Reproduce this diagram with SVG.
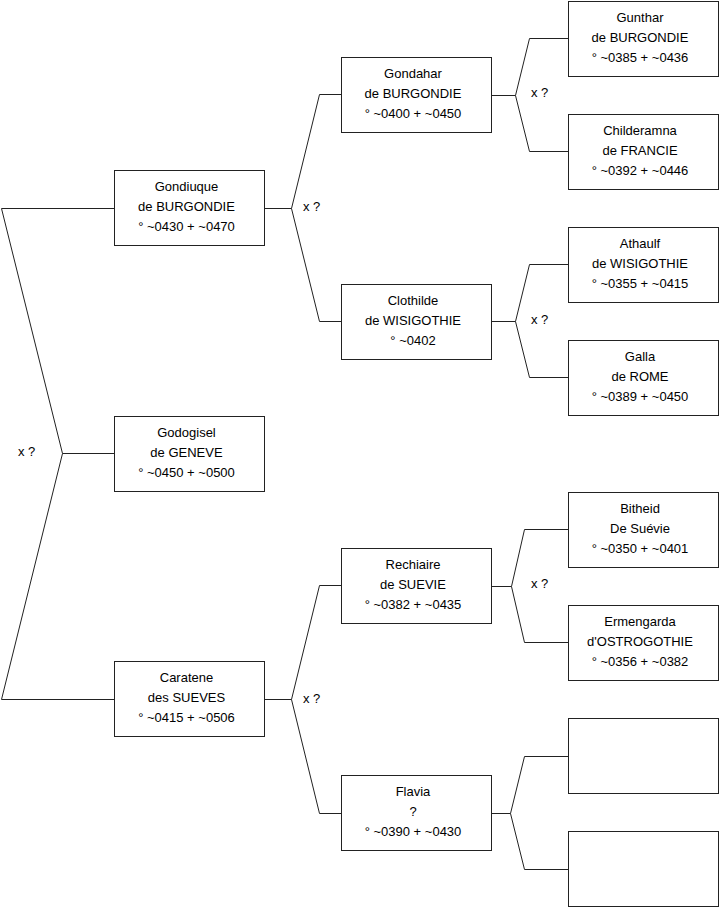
<svg xmlns="http://www.w3.org/2000/svg" width="719" height="908" viewBox="0 0 719 908">
<style>
.box{fill:#fff;stroke:#222;stroke-width:1}
.ln{fill:none;stroke:#222;stroke-width:1}
text{font-family:"Liberation Sans",Arial,sans-serif;font-size:13px;fill:#000}
.c{text-anchor:middle}
</style>
<rect width="719" height="908" fill="#fff"/>
<g id="connectors">
<polyline class="ln" points="114,208.5 1.5,208.5 62.5,453.5 1.5,699.5 114,699.5"/>
<polyline class="ln" points="62.5,453.5 114,453.5"/>
<polyline class="ln" points="265,208.5 291.5,208.5"/>
<polyline class="ln" points="341,94.5 319.5,94.5 291.5,208.5 319.5,321.5 341,321.5"/>
<polyline class="ln" points="265,699.5 291.5,699.5"/>
<polyline class="ln" points="341,585.5 319.5,585.5 291.5,699.5 319.5,813.5 341,813.5"/>
<polyline class="ln" points="492,95.5 515.5,95.5"/>
<polyline class="ln" points="568,38.5 529.5,38.5 515.5,95.5 529.5,151.5 568,151.5"/>
<polyline class="ln" points="492,321.5 515.5,321.5"/>
<polyline class="ln" points="568,264.5 529.5,264.5 515.5,321.5 529.5,377.5 568,377.5"/>
<polyline class="ln" points="492,586.5 511.5,586.5"/>
<polyline class="ln" points="568,529.5 524.5,529.5 511.5,586.5 524.5,642.5 568,642.5"/>
<polyline class="ln" points="492,813.5 510.5,813.5"/>
<polyline class="ln" points="568,756.5 524.5,756.5 510.5,813.5 524.5,869.5 568,869.5"/>
<text x="18" y="456">x ?</text>
<text x="303" y="211">x ?</text>
<text x="303" y="703">x ?</text>
<text x="531" y="97">x ?</text>
<text x="531" y="324">x ?</text>
<text x="531" y="588">x ?</text>
</g>
<g id="gondiuque">
<rect class="box" x="114.5" y="170.5" width="150" height="75"/>
<text class="c" x="186.5" y="191">Gondiuque</text>
<text class="c" x="186.5" y="211">de BURGONDIE</text>
<text class="c" x="186.5" y="231">° ~0430 + ~0470</text>
</g>
<g id="godogisel">
<rect class="box" x="114.5" y="416.5" width="150" height="75"/>
<text class="c" x="186.5" y="437">Godogisel</text>
<text class="c" x="186.5" y="457">de GENEVE</text>
<text class="c" x="186.5" y="477">° ~0450 + ~0500</text>
</g>
<g id="caratene">
<rect class="box" x="114.5" y="661.5" width="150" height="75"/>
<text class="c" x="186.5" y="682">Caratene</text>
<text class="c" x="186.5" y="702">des SUEVES</text>
<text class="c" x="186.5" y="722">° ~0415 + ~0506</text>
</g>
<g id="gondahar">
<rect class="box" x="341.5" y="57.5" width="150" height="75"/>
<text class="c" x="413" y="78">Gondahar</text>
<text class="c" x="413" y="98">de BURGONDIE</text>
<text class="c" x="413" y="118">° ~0400 + ~0450</text>
</g>
<g id="clothilde">
<rect class="box" x="341.5" y="284.5" width="150" height="75"/>
<text class="c" x="413" y="305">Clothilde</text>
<text class="c" x="413" y="325">de WISIGOTHIE</text>
<text class="c" x="413" y="345">° ~0402</text>
</g>
<g id="rechiaire">
<rect class="box" x="341.5" y="548.5" width="150" height="75"/>
<text class="c" x="413" y="569">Rechiaire</text>
<text class="c" x="413" y="589">de SUEVIE</text>
<text class="c" x="413" y="609">° ~0382 + ~0435</text>
</g>
<g id="flavia">
<rect class="box" x="341.5" y="775.5" width="150" height="75"/>
<text class="c" x="413" y="796">Flavia</text>
<text class="c" x="413" y="816">?</text>
<text class="c" x="413" y="836">° ~0390 + ~0430</text>
</g>
<g id="gunthar">
<rect class="box" x="568.5" y="1.5" width="150" height="75"/>
<text class="c" x="640" y="22">Gunthar</text>
<text class="c" x="640" y="42">de BURGONDIE</text>
<text class="c" x="640" y="62">° ~0385 + ~0436</text>
</g>
<g id="childeramna">
<rect class="box" x="568.5" y="114.5" width="150" height="75"/>
<text class="c" x="640" y="135">Childeramna</text>
<text class="c" x="640" y="155">de FRANCIE</text>
<text class="c" x="640" y="175">° ~0392 + ~0446</text>
</g>
<g id="athaulf">
<rect class="box" x="568.5" y="227.5" width="150" height="75"/>
<text class="c" x="640" y="248">Athaulf</text>
<text class="c" x="640" y="268">de WISIGOTHIE</text>
<text class="c" x="640" y="288">° ~0355 + ~0415</text>
</g>
<g id="galla">
<rect class="box" x="568.5" y="340.5" width="150" height="75"/>
<text class="c" x="640" y="361">Galla</text>
<text class="c" x="640" y="381">de ROME</text>
<text class="c" x="640" y="401">° ~0389 + ~0450</text>
</g>
<g id="bitheid">
<rect class="box" x="568.5" y="492.5" width="150" height="75"/>
<text class="c" x="640" y="513">Bitheid</text>
<text class="c" x="640" y="533">De Suévie</text>
<text class="c" x="640" y="553">° ~0350 + ~0401</text>
</g>
<g id="ermengarda">
<rect class="box" x="568.5" y="605.5" width="150" height="75"/>
<text class="c" x="640" y="626">Ermengarda</text>
<text class="c" x="640" y="646">d'OSTROGOTHIE</text>
<text class="c" x="640" y="666">° ~0356 + ~0382</text>
</g>
<g id="empty1">
<rect class="box" x="568.5" y="718.5" width="150" height="75"/>
</g>
<g id="empty2">
<rect class="box" x="568.5" y="831.5" width="150" height="75"/>
</g>
</svg>
